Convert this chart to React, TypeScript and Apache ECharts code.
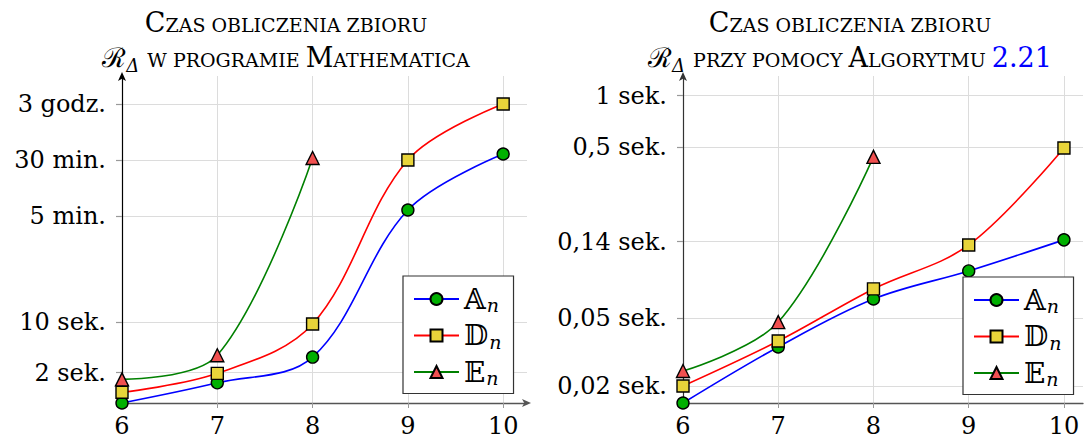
import React, { useEffect, useRef } from "react";
import * as echarts from "echarts";

const xValues = [6, 7, 8, 9, 10];
const seriesNames = ["𝔸n", "𝔻n", "𝔼n"];

// Left panel: Mathematica computation time (seconds)
const mathA = [0.76, 1.45, 3.3, 364, 2180];
const mathD = [1.07, 1.96, 9.5, 1800, 10800];
const mathE = [1.62, 3.5, 1920];
const mathTickValues = [2, 10, 300, 1800, 10800];
const mathTickLabels = ["2 sek.", "10 sek.", "5 min.", "30 min.", "3 godz."];

// Right panel: Algorithm 2.21 computation time (seconds)
const algA = [0.016, 0.034, 0.0648, 0.0945, 0.1435];
const algD = [0.0201, 0.0368, 0.0742, 0.134, 0.494];
const algE = [0.0246, 0.0475, 0.438];
const algTickValues = [0.02, 0.05, 0.14, 0.5, 1];
const algTickLabels = ["0,02 sek.", "0,05 sek.", "0,14 sek.", "0,5 sek.", "1 sek."];

const lineColors = ["#0000ff", "#ff0000", "#008000"];
const fillColors = ["#00b000", "#e8d43a", "#f05050"];
const symbols = ["circle", "rect", "triangle"];
const symbolSizes = [12, 12, 13];

const SERIF = "'DejaVu Serif', serif";

function pairs(vals: number[]) {
  return vals.map((v, i) => [xValues[i], v]);
}

function labelFor(values: number[], labels: string[]) {
  return (v: number) => {
    for (let i = 0; i < values.length; i++) {
      if (Math.abs(v - values[i]) / values[i] < 1e-6) return labels[i];
    }
    return "";
  };
}

const titleRich = {
  b: { fontFamily: SERIF, fontSize: 27, fill: "#000" },
  s: { fontFamily: SERIF, fontSize: 19, fill: "#000", padding: [5, 0, 0, 0] },
  r: { fontFamily: SERIF, fontSize: 27, fill: "#000" },
  sub: { fontFamily: SERIF, fontSize: 18, fontStyle: "italic", fill: "#000", padding: [16, 2, 0, 0] },
  blue: { fontFamily: SERIF, fontSize: 27, fill: "#0000ff" },
};

export default function App() {
  const ref = useRef<HTMLDivElement>(null);
  useEffect(() => {
    if (!ref.current) return;
    const chart = echarts.init(ref.current, undefined, { renderer: "svg" });

    const makeSeries = (data: number[][], axisIdx: number) =>
      data.map((d, i) => ({
        name: seriesNames[i],
        type: "line",
        xAxisIndex: axisIdx,
        yAxisIndex: axisIdx,
        data: pairs(d),
        smooth: 0.35,
        clip: false,
        symbol: symbols[i],
        symbolSize: symbolSizes[i],
        showAllSymbol: true,
        lineStyle: { color: lineColors[i], width: 1.6 },
        itemStyle: { color: fillColors[i], borderColor: "#000", borderWidth: 1.4 },
        emphasis: { disabled: true },
        z: 3 + i,
      }));

    const xAxisBase = (gridIndex: number, max: number, arrow: boolean) => ({
      type: "value",
      gridIndex,
      min: 6,
      max,
      interval: 1,
      axisLine: {
        show: true,
        lineStyle: { color: "#555", width: 1.3 },
        symbol: arrow ? ["none", "arrow"] : ["none", "none"],
        symbolSize: [6, 9],
        symbolOffset: [0, 4],
      },
      axisTick: { show: true, length: 5, customValues: xValues, lineStyle: { color: "#999" } },
      axisLabel: {
        customValues: xValues,
        fontFamily: SERIF,
        fontSize: 24,
        color: "#000",
        margin: 11,
      },
      splitLine: { show: true, lineStyle: { color: "#dcdcdc", width: 1 } },
    });

    const yAxisBase = (
      gridIndex: number,
      min: number,
      max: number,
      ticks: number[],
      labels: string[],
      axisColor: string
    ) => ({
      type: "log",
      gridIndex,
      logBase: 10,
      min,
      max,
      axisLine: {
        show: true,
        lineStyle: { color: axisColor, width: 1.2 },
        symbol: ["none", "arrow"],
        symbolSize: [6, 9],
        symbolOffset: [0, 4],
      },
      axisTick: { show: true, length: 6, customValues: ticks, lineStyle: { color: "#999", width: 1.2 } },
      axisLabel: {
        customValues: ticks,
        formatter: labelFor(ticks, labels),
        fontFamily: SERIF,
        fontSize: 24,
        color: "#000",
        margin: 16,
      },
      splitLine: { show: true, lineStyle: { color: "#dcdcdc", width: 1 } },
    });

    const legendBase = (left: number, top: number) => ({
      orient: "vertical",
      left,
      top,
      selectedMode: false,
      data: seriesNames,
      backgroundColor: "#fff",
      borderColor: "#333",
      borderWidth: 1.2,
      padding: [9, 12, 6, 10],
      itemWidth: 45,
      itemHeight: 15,
      itemGap: 7,
      formatter: (name: string) => `{b|${name.slice(0, -1)}}{sub|n}`,
      textStyle: {
        fontFamily: SERIF,
        fontSize: 24,
        color: "#000",
        rich: {
          b: { fontFamily: SERIF, fontSize: 28, color: "#000" },
          sub: { fontFamily: SERIF, fontSize: 19, fontStyle: "italic", color: "#000", padding: [12, 0, 0, 1] },
        },
      },
    });

    const titleText = (x: number, y: number, text: string) => ({
      type: "text",
      x,
      y,
      style: {
        text,
        rich: titleRich,
        textAlign: "center",
        align: "center",
        textVerticalAlign: "middle",
        verticalAlign: "middle",
        font: `27px ${SERIF}`,
        fill: "#000",
      },
    });

    chart.setOption({
      animation: false,
      backgroundColor: "#fff",
      grid: [
        { left: 122, top: 76, width: 405, height: 327, containLabel: false },
        { left: 683, top: 76, width: 400, height: 327, containLabel: false },
      ],
      xAxis: [xAxisBase(0, 10.25, true), xAxisBase(1, 10.2, false)],
      yAxis: [
        yAxisBase(0, 0.76, 26400, mathTickValues, mathTickLabels, "#000"),
        yAxisBase(1, 0.016, 1.3, algTickValues, algTickLabels, "#333"),
      ],
      legend: [legendBase(403, 276), legendBase(963, 277)],
      graphic: [
        titleText(286, 22, "{b|C}{s|ZAS OBLICZENIA ZBIORU}"),
        titleText(286, 57, "{r|ℛ}{sub|Δ}{s| W PROGRAMIE }{b|M}{s|ATHEMATICA}"),
        titleText(850, 22, "{b|C}{s|ZAS OBLICZENIA ZBIORU}"),
        titleText(850, 57, "{r|ℛ}{sub|Δ}{s| PRZY POMOCY }{b|A}{s|LGORYTMU }{blue|2.21}"),
      ],
      series: [
        ...makeSeries([mathA, mathD, mathE], 0),
        ...makeSeries([algA, algD, algE], 1),
      ],
    });

    return () => chart.dispose();
  }, []);

  return (
    <div
      ref={ref}
      style={{ position: "absolute", left: 0, top: 0, width: 1084, height: 446, background: "#fff" }}
    />
  );
}
